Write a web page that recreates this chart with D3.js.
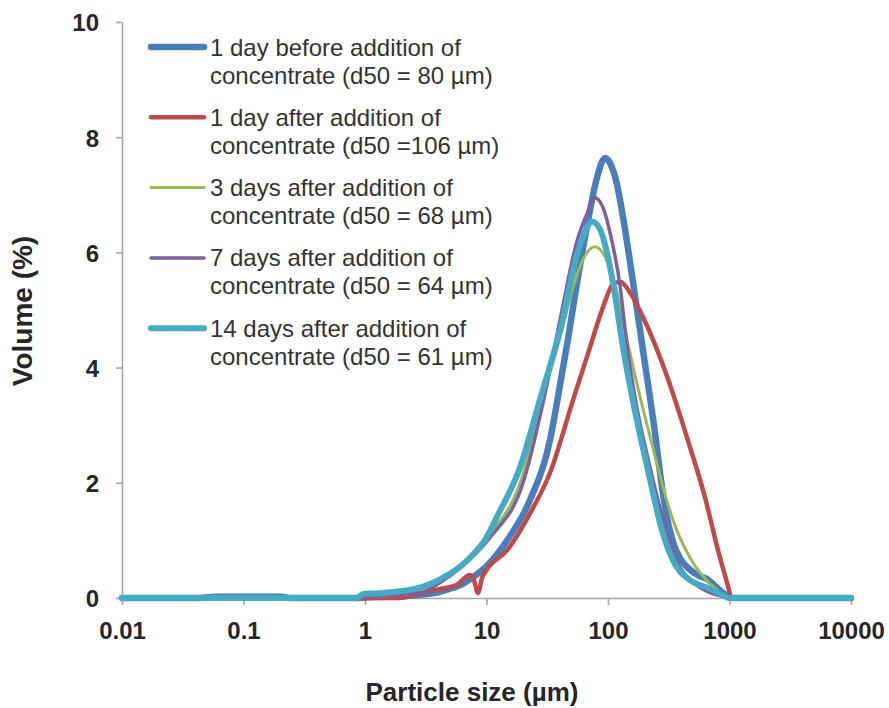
<!DOCTYPE html>
<html>
<head>
<meta charset="utf-8">
<script src="https://cdn.jsdelivr.net/npm/d3@7/dist/d3.min.js"></script>
<style>
  html, body { margin: 0; padding: 0; background: #fff; }
  svg { display: block; }
  text { font-family: "Liberation Sans", Arial, sans-serif; }
</style>
</head>
<body>
<svg id="chart" width="889" height="708"></svg>
<script>
// ---- data (particle size in µm, volume in %) ----
const xTickValues = [0.01, 0.1, 1, 10, 100, 1000, 10000];
const xTickLabels = ["0.01", "0.1", "1", "10", "100", "1000", "10000"];
const yTickValues = [0, 2, 4, 6, 8, 10];

const seriesNames = [
  ["1 day before addition of", "concentrate (d50 = 80 µm)"],
  ["1 day after addition of", "concentrate (d50 =106 µm)"],
  ["3 days after addition of", "concentrate (d50 = 68 µm)"],
  ["7 days after addition of", "concentrate (d50 = 64 µm)"],
  ["14 days after addition of", "concentrate (d50 = 61 µm)"]
];

const blueSizes = [0.01, 0.04, 0.06, 0.2, 0.25, 0.8, 1, 1.5, 2, 3, 4, 5, 6, 7.7, 10, 14.8, 22.8, 33.3, 40.3, 46.9, 53.5, 67.1, 81.2, 94.5, 104, 118, 133, 161, 194, 244, 273, 306, 343, 392, 473, 571, 653, 760, 867, 1009, 1050, 10000];
const blueVals  = [0, 0, 0.02, 0.02, 0, 0, 0.01, 0.02, 0.03, 0.06, 0.1, 0.16, 0.22, 0.36, 0.55, 1.0, 1.7, 2.74, 3.7, 4.5, 5.25, 6.45, 7.3, 7.64, 7.55, 7.2, 6.61, 5.47, 4.3, 2.86, 2.05, 1.39, 0.97, 0.69, 0.49, 0.38, 0.33, 0.21, 0.1, 0.01, 0, 0];

const redSizes = [0.01, 1.9, 3, 4, 5.7, 7.3, 7.9, 8.5, 9.2, 10.1, 14.8, 22.8, 33.3, 51.6, 71, 91, 110, 126, 152, 194, 244, 306, 356, 473, 628, 804, 990, 1030, 10000];
const redVals  = [0, 0, 0.09, 0.15, 0.23, 0.4, 0.3, 0.09, 0.35, 0.5, 0.83, 1.47, 2.17, 3.44, 4.35, 5.05, 5.45, 5.49, 5.3, 4.88, 4.4, 3.85, 3.44, 2.62, 1.75, 0.83, 0.14, 0, 0];

const greenSizes = [0.01, 0.9, 1, 1.5, 3, 4.1, 6, 10.7, 20, 27.5, 40, 51.6, 63, 78, 86, 110, 143, 183, 213, 235, 268, 343, 473, 653, 800, 918, 990, 10000];
const greenVals  = [0, 0, 0.02, 0.04, 0.15, 0.28, 0.52, 1.1, 2.15, 3.3, 4.5, 5.4, 5.9, 6.1, 6.05, 5.57, 4.5, 3.5, 2.95, 2.6, 2.12, 1.35, 0.7, 0.3, 0.13, 0.02, 0, 0];

const purpleSizes = [0.01, 0.9, 1, 1.5, 3, 4.1, 6.05, 10.7, 20, 30, 40.3, 55.6, 68, 78, 90, 104, 126, 143, 173, 209, 244, 294, 377, 520, 718, 918, 990, 10000];
const purpleVals  = [0, 0, 0.02, 0.04, 0.1, 0.26, 0.52, 1.05, 2.0, 3.5, 4.83, 6.2, 6.7, 6.95, 6.8, 6.34, 5.4, 4.4, 3.3, 2.5, 1.9, 1.25, 0.6, 0.25, 0.08, 0.02, 0, 0];

const cyanSizes = [0.01, 0.85, 0.97, 1.2, 1.6, 2, 3, 4.1, 5.7, 6.9, 10, 12.2, 18.9, 27.5, 38, 42.7, 51.6, 63, 74, 86, 98, 110, 133, 161, 194, 222, 268, 343, 473, 653, 885, 990, 10000];
const cyanVals  = [0, 0, 0.07, 0.08, 0.1, 0.12, 0.2, 0.32, 0.5, 0.65, 1.05, 1.41, 2.27, 3.44, 4.45, 4.85, 5.7, 6.3, 6.53, 6.4, 6.0, 5.47, 4.35, 3.4, 2.6, 2.05, 1.3, 0.65, 0.31, 0.18, 0.05, 0, 0];

// ---- styles ----
const colors = ["#4a7ebb", "#be4b48", "#98b954", "#7d60a0", "#46aac5"];
const widths = [6.5, 4.5, 3, 3.5, 6];

const series = [
  [blueSizes, blueVals],
  [redSizes, redVals],
  [greenSizes, greenVals],
  [purpleSizes, purpleVals],
  [cyanSizes, cyanVals]
].map(([s, v], i) => ({ name: seriesNames[i], color: colors[i], width: widths[i],
  points: s.map((x, j) => ({ x, y: v[j] })) }));

const svg = d3.select("#chart");
const x = d3.scaleLog().domain([0.01, 10000]).range([122, 851]);
const y = d3.scaleLinear().domain([0, 10]).range([598, 22]);

const axisColor = "#a6a6a6";
const textColor = "#262626";

// Y axis
const yAxis = svg.append("g").attr("transform", "translate(122,0)")
  .call(d3.axisLeft(y).tickValues(yTickValues).tickSize(6).tickSizeOuter(0).tickPadding(17).tickFormat(d3.format("d")));
yAxis.select(".domain").attr("stroke", axisColor).attr("stroke-width", 1.6);
yAxis.selectAll(".tick line").attr("stroke", axisColor).attr("stroke-width", 1.6);
yAxis.selectAll(".tick text").attr("fill", textColor).attr("font-size", 24).attr("font-weight", "bold")
  .attr("dy", "0.37em").style("font-family", "'Liberation Sans', Arial, sans-serif");

// X axis
const xAxis = svg.append("g").attr("transform", "translate(0,598)")
  .call(d3.axisBottom(x).tickValues(xTickValues).tickSize(7).tickSizeOuter(0).tickPadding(17)
    .tickFormat((d, i) => xTickLabels[i]));
xAxis.select(".domain").attr("stroke", axisColor).attr("stroke-width", 1.6);
xAxis.selectAll(".tick line").attr("stroke", axisColor).attr("stroke-width", 1.6);
xAxis.selectAll(".tick text").attr("fill", textColor).attr("font-size", 24).attr("font-weight", "bold")
  .style("font-family", "'Liberation Sans', Arial, sans-serif");

// Axis titles
svg.append("text").attr("x", 472).attr("y", 701).attr("text-anchor", "middle")
  .attr("font-size", 26).attr("font-weight", "bold").attr("fill", textColor)
  .text("Particle size (µm)");
svg.append("text").attr("transform", "translate(32,311) rotate(-90)").attr("text-anchor", "middle")
  .attr("font-size", 28).attr("font-weight", "bold").attr("fill", textColor)
  .text("Volume (%)");

// Lines
const line = d3.line().x(d => x(d.x)).y(d => y(d.y)).curve(d3.curveMonotoneX);
svg.append("g").selectAll("path").data(series).join("path")
  .attr("d", d => line(d.points))
  .attr("fill", "none")
  .attr("stroke", d => d.color)
  .attr("stroke-width", d => d.width)
  .attr("stroke-linejoin", "round")
  .attr("stroke-linecap", "round");

// Legend
const legend = svg.append("g");
const legendTop = 47, legendStep = 70.3;
series.forEach((s, i) => {
  const cy = legendTop + i * legendStep;
  legend.append("line").attr("x1", 151).attr("x2", 204).attr("y1", cy).attr("y2", cy)
    .attr("stroke", s.color).attr("stroke-width", s.width).attr("stroke-linecap", "round");
  s.name.forEach((t, k) => {
    legend.append("text").attr("x", 210).attr("y", cy + 8.5 + k * 28)
      .attr("font-size", 24).attr("fill", "#333333").text(t);
  });
});
</script>
</body>
</html>
